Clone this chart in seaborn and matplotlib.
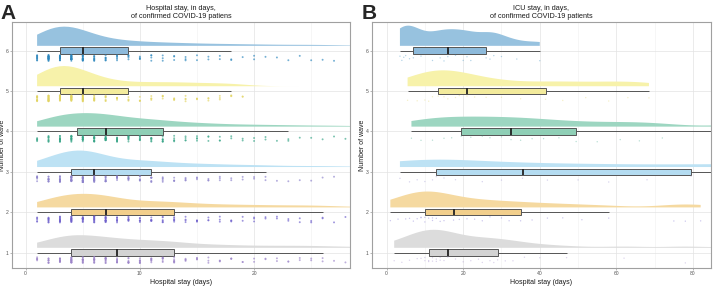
import numpy as np
import pandas as pd
import matplotlib.pyplot as plt
import seaborn as sns

sns.set_theme(style='whitegrid')
plt.rcParams['font.family'] = ['Liberation Sans', 'DejaVu Sans']
np.random.seed(3)

waves = [1, 2, 3, 4, 5, 6]

# Panel A - hospital stay: number of patients for each length of stay (days)
days_a = [1, 2, 3, 4, 5, 6, 7, 8, 9, 10, 11, 12, 13, 14, 15, 16,
          17, 18, 19, 20, 21, 22, 23, 24, 25, 26, 27, 28, 29, 30, 35, 40]
counts_w1 = [5, 8, 11, 17, 12, 12, 11, 9, 8, 8, 7, 7, 7, 4, 4, 3,
             3, 3, 2, 2, 2, 2, 2, 2, 2, 2, 1, 1, 1, 1, 1, 1]
counts_w2 = [5, 9, 12, 15, 14, 14, 14, 8, 7, 6, 6, 6, 6, 4, 4, 3,
             3, 3, 2, 3, 2, 2, 2, 2, 2, 2, 1, 1, 0, 1, 1, 1]
counts_w3 = [6, 10, 14, 18, 20, 16, 10, 8, 7, 6, 7, 5, 4, 4, 3, 3,
             3, 2, 2, 2, 2, 1, 1, 1, 1, 1, 1, 0, 1, 0, 1, 1]
counts_w4 = [5, 9, 13, 14, 14, 14, 14, 10, 9, 8, 7, 7, 5, 4, 4, 3,
             3, 2, 2, 2, 2, 1, 2, 1, 1, 1, 1, 1, 0, 1, 1, 2]
counts_w5 = [12, 20, 26, 21, 18, 10, 7, 5, 4, 4, 4, 4, 4, 4, 3, 3,
             3, 3, 2, 0, 0, 0, 0, 0, 0, 0, 0, 0, 0, 0, 2, 2]
counts_w6 = [10, 22, 24, 22, 17, 9, 7, 6, 5, 4, 4, 3, 3, 3, 2, 2,
             2, 2, 1, 2, 1, 1, 1, 1, 1, 1, 1, 0, 0, 1, 1, 2]

# Panel B - ICU stay (days), one value per patient
icu_w1 = [2, 4, 6, 8, 9, 10, 10, 11, 11, 12, 12, 13, 13, 14, 14, 15, 16,
          18, 20, 22, 24, 25, 27, 28, 29, 31, 33, 36, 40, 47, 62, 78, 95]
icu_w2 = [1, 3, 5, 6, 7, 8, 9, 9, 10, 10, 11, 12, 12, 13, 14, 15, 17.5,
          19, 21, 23, 25, 27, 30, 32, 35, 38, 42, 46, 51, 58, 75, 78, 82]
icu_w3 = [3.5, 6, 8, 10, 12, 13, 15, 18, 25, 30, 35.5, 42, 50, 58, 68,
          79.5, 88, 96, 105, 118, 130]
icu_w4 = [6.5, 9, 12, 15, 17, 19.5, 22, 25, 27, 30, 32.5, 35, 38, 41, 45,
          49.5, 55, 61, 66, 72, 92]
icu_w5 = [5.5, 8, 10, 11, 12, 13.5, 15, 16, 18, 19, 21, 23, 26, 30, 35,
          41.5, 46, 52, 58, 63, 68.5]
icu_w6 = [3.5, 4, 4.5, 5, 6, 7, 9, 12, 14, 15, 16, 18, 20, 21, 22, 26,
          27, 28, 30, 34, 40]

slab_colors = {'1': '#dcdcdc', '2': '#f5d9a0', '3': '#bde2f4',
               '4': '#9dd6c1', '5': '#f7f2aa', '6': '#97c2df'}
box_colors = {'1': '#d3d3d3', '2': '#f2cf8c', '3': '#b4dcf1',
              '4': '#8fcfb6', '5': '#f3eb9c', '6': '#8dbadb'}
dot_colors = {'1': '#9c84c9', '2': '#6e60cc', '3': '#8c82cc',
              '4': '#35a486', '5': '#e2d461', '6': '#2b86bd'}

# build long tables
hosp = pd.DataFrame({
    'wave': np.concatenate([np.repeat(w, sum(c)) for w, c in
                            zip(waves, [counts_w1, counts_w2, counts_w3,
                                        counts_w4, counts_w5, counts_w6])]),
    'stay': np.concatenate([np.repeat(days_a, c) for c in
                            [counts_w1, counts_w2, counts_w3,
                             counts_w4, counts_w5, counts_w6]]).astype(float),
})
icu_lists = [icu_w1, icu_w2, icu_w3, icu_w4, icu_w5, icu_w6]
icu = pd.DataFrame({
    'wave': np.concatenate([np.repeat(w, len(v)) for w, v in zip(waves, icu_lists)]),
    'stay': np.concatenate(icu_lists).astype(float),
})

SLAB_W = 0.5   # violin width -> max slab height
GAP = 0.12     # slab baseline above the box centre


def raincloud(ax, df, dot_size, dot_alpha, bw):
    # y is drawn negated on an inverted axis so the half violin sits above the box
    df = df.copy()
    df['wave_lab'] = df['wave'].astype(str)
    df['box_pos'] = -df['wave']
    df['slab_pos'] = -(df['wave'] + GAP + SLAB_W / 2)
    df['dot_pos'] = -(df['wave'] - 0.18)

    n_before = len(ax.collections)
    sns.violinplot(data=df, x='stay', y='slab_pos', orient='h',
                   native_scale=True, split=True, inner=None, cut=0,
                   density_norm='area', width=SLAB_W, bw_adjust=bw,
                   color='#cccccc', saturation=1, linewidth=0, ax=ax)
    for coll in ax.collections[n_before:]:
        verts = coll.get_paths()[0].vertices
        w = int(round(-verts[:, 1].max() - GAP))
        coll.set_facecolor(slab_colors[str(w)])
        coll.set_edgecolor('none')

    sns.stripplot(data=df, x='stay', y='dot_pos', orient='h', native_scale=True,
                  hue='wave_lab', palette=dot_colors, jitter=0.075,
                  size=dot_size, alpha=dot_alpha, linewidth=0, legend=False, ax=ax)
    sns.boxplot(data=df, x='stay', y='box_pos', orient='h', native_scale=True,
                hue='wave_lab', palette=box_colors, width=0.16, whis=1.5,
                showfliers=False, showcaps=False, saturation=1,
                linecolor='#555555', linewidth=0.7, legend=False,
                medianprops=dict(color='#222222', linewidth=1.3), ax=ax)


fig = plt.figure(figsize=(7.13, 2.88), dpi=100)
axA = fig.add_axes([0.0168, 0.0694, 0.4741, 0.8542])
axB = fig.add_axes([0.5217, 0.0694, 0.4755, 0.8542])

raincloud(axA, hosp, 1.4, 0.65, 0.6)
raincloud(axB, icu, 1.0, 0.35, 0.55)

axA.set_xlim(-1.2, 28.4)
axA.set_xticks([0, 10, 20])
axA.set_xticks([5, 15, 25], minor=True)
axB.set_xlim(-3.8, 84.7)
axB.set_xticks([0, 20, 40, 60, 80])
axB.set_xticks([10, 30, 50, 70], minor=True)

titles = ['Hospital stay, in days,\nof confirmed COVID-19 patiens',
          'ICU stay, in days,\nof confirmed COVID-19 patients']
for ax, title in zip([axA, axB], titles):
    ax.set_ylim(-0.62, -6.71)
    ax.set_yticks([-w for w in waves])
    ax.set_yticklabels([str(w) for w in waves])
    ax.set_title(title, fontsize=5.2, pad=3, linespacing=1.15, color='#1a1a1a')
    ax.set_xlabel('Hospital stay (days)', fontsize=5, labelpad=2, color='#1a1a1a')
    ax.set_ylabel('Number of wave', fontsize=5, color='#1a1a1a')
    ax.yaxis.set_label_coords(-0.019, 0.5)
    ax.grid(True, which='major', color='#e3e3e3', linewidth=0.5)
    ax.grid(True, which='minor', axis='x', color='#efefef', linewidth=0.4)
    ax.set_axisbelow(True)
    ax.tick_params(which='major', length=1.5, width=0.5, color='#9a9a9a',
                   labelsize=3.6, labelcolor='#555555', pad=1,
                   left=True, bottom=True)
    ax.tick_params(which='minor', length=0)
    for s in ax.spines.values():
        s.set_color('#a0a0a0')
        s.set_linewidth(0.8)

fig.text(0.0, 0.985, 'A', fontsize=15, fontweight='bold', va='top', ha='left')
fig.text(0.507, 0.985, 'B', fontsize=15, fontweight='bold', va='top', ha='left')

fig.savefig('out.png', dpi=100)
